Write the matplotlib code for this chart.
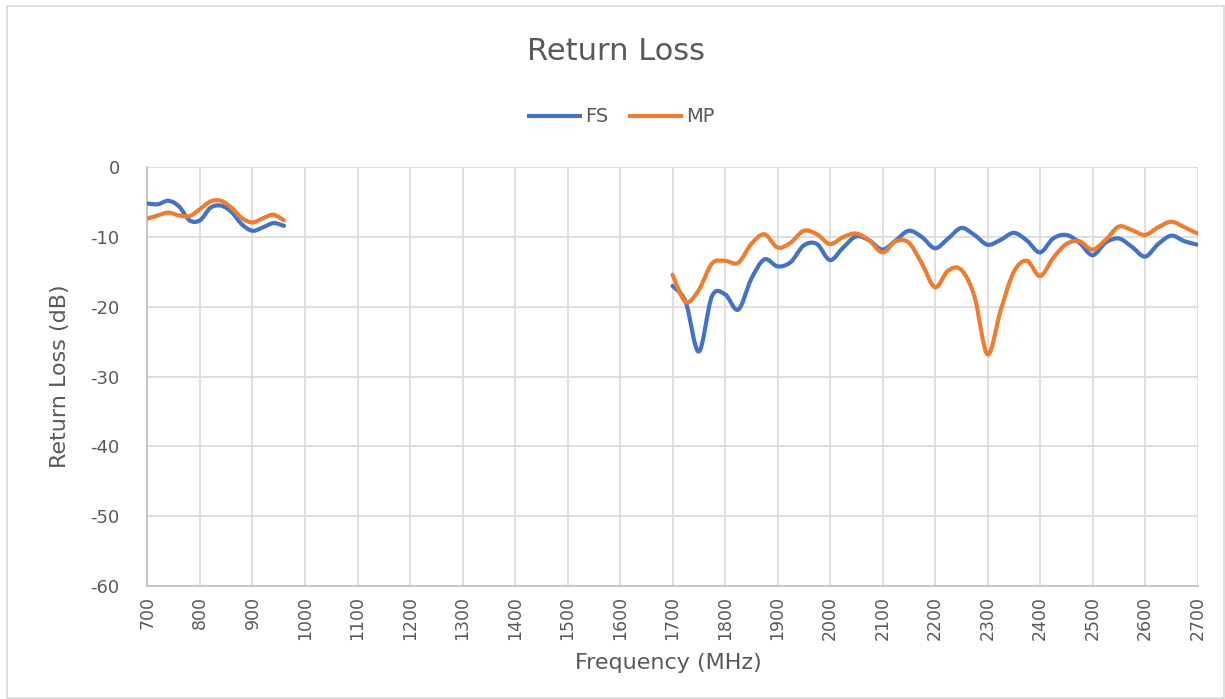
import matplotlib
matplotlib.use("Agg")
import matplotlib.pyplot as plt
import numpy as np
from matplotlib.path import Path
from matplotlib.patches import PathPatch, Rectangle
from matplotlib.lines import Line2D

# low band, 20 MHz steps
freq_low = [700, 720, 740, 760, 780, 800, 820, 840, 860, 880, 900, 920, 940, 960]
fs_low = [-5.2, -5.3, -4.8, -5.6, -7.6, -7.6, -5.8, -5.5, -6.4, -8.2, -9.1, -8.6, -8.0, -8.4]
mp_low = [-7.35, -6.9, -6.5, -6.9, -7.0, -6.0, -4.9, -4.8, -5.8, -7.3, -7.9, -7.3, -6.8, -7.6]

# high band, 25 MHz steps
freq_high = [1700, 1725, 1750, 1775, 1800, 1825, 1850, 1875, 1900, 1925,
             1950, 1975, 2000, 2025, 2050, 2075, 2100, 2125, 2150, 2175,
             2200, 2225, 2250, 2275, 2300, 2325, 2350, 2375, 2400, 2425,
             2450, 2475, 2500, 2525, 2550, 2575, 2600, 2625, 2650, 2675, 2700]
fs_high = [-17.0, -19.3, -26.4, -18.5, -18.2, -20.4, -16.0, -13.2, -14.2, -13.6,
           -11.2, -11.0, -13.3, -11.5, -9.9, -10.5, -11.8, -10.5, -9.1, -10.0,
           -11.6, -10.2, -8.7, -9.7, -11.1, -10.4, -9.4, -10.5, -12.2, -10.2,
           -9.7, -10.8, -12.6, -10.8, -10.2, -11.4, -12.8, -11.0, -9.8, -10.6, -11.1]
mp_high = [-15.4, -19.3, -17.6, -13.8, -13.4, -13.7, -11.0, -9.6, -11.5, -10.8,
           -9.1, -9.6, -11.0, -10.0, -9.5, -10.5, -12.2, -10.6, -10.8, -13.8,
           -17.2, -14.8, -14.7, -18.5, -26.8, -20.5, -15.0, -13.4, -15.6, -13.0,
           -11.0, -10.6, -11.8, -10.4, -8.5, -9.0, -9.7, -8.6, -7.8, -8.6, -9.5]

blue = "#4472C4"
orange = "#ED7D31"
text_color = "#595959"
grid_color = "#D9D9D9"

plt.rcParams["axes.unicode_minus"] = False


def smooth_path(x, y):
    # excel-like smoothed line: catmull-rom turned into cubic bezier segments
    pts = np.column_stack([x, y]).astype(float)
    n = len(pts)
    verts = [pts[0]]
    codes = [Path.MOVETO]
    for i in range(n - 1):
        p0 = pts[max(i - 1, 0)]
        p1 = pts[i]
        p2 = pts[i + 1]
        p3 = pts[min(i + 2, n - 1)]
        verts += [p1 + (p2 - p0) / 6, p2 - (p3 - p1) / 6, p2]
        codes += [Path.CURVE4] * 3
    return Path(verts, codes)


fig = plt.figure(figsize=(12.25, 6.99), dpi=100)
ax = fig.add_axes([0.1204, 0.1617, 0.8572, 0.599])

for fx, fy, color in [(freq_low, fs_low, blue), (freq_high, fs_high, blue),
                      (freq_low, mp_low, orange), (freq_high, mp_high, orange)]:
    ax.add_patch(PathPatch(smooth_path(fx, fy), facecolor="none", edgecolor=color,
                           lw=3, capstyle="round", joinstyle="round", zorder=3))

ax.set_xlim(700, 2700)
ax.set_ylim(-60, 0)
ax.set_xticks(np.arange(700, 2701, 100))
ax.set_yticks(np.arange(-60, 1, 10))
ax.tick_params(axis="x", labelrotation=90, labelsize=12.5, colors=text_color, length=0, pad=7)
ax.tick_params(axis="y", labelsize=13, colors=text_color, length=0, pad=20)
ax.grid(True, color=grid_color, lw=1.2)
ax.set_axisbelow(True)
for side in ["top", "right"]:
    ax.spines[side].set_visible(False)
for side in ["left", "bottom"]:
    ax.spines[side].set_color("#BFBFBF")
    ax.spines[side].set_linewidth(1.2)

ax.set_xlabel("Frequency (MHz)", fontsize=16, color=text_color)
ax.xaxis.set_label_coords(0.496, -0.16)
ax.set_ylabel("Return Loss (dB)", fontsize=16, color=text_color)
ax.yaxis.set_label_coords(-0.074, 0.5)

fig.text(616 / 1225, 1 - 52 / 699, "Return Loss", ha="center", va="center",
         fontsize=22, color=text_color)

handles = [Line2D([], [], color=blue, lw=3), Line2D([], [], color=orange, lw=3)]
fig.legend(handles, ["FS", "MP"], loc="center", bbox_to_anchor=(622 / 1225, 1 - 117 / 699),
           ncol=2, frameon=False, fontsize=14, handlelength=2.6, handletextpad=0.3,
           columnspacing=1.1, labelcolor=text_color)

fig.patches.append(Rectangle((7 / 1225, 1 / 699), 1217 / 1225, 692 / 699,
                             transform=fig.transFigure, fill=False,
                             edgecolor=grid_color, lw=1.2))

fig.savefig("out.png", dpi=100)
